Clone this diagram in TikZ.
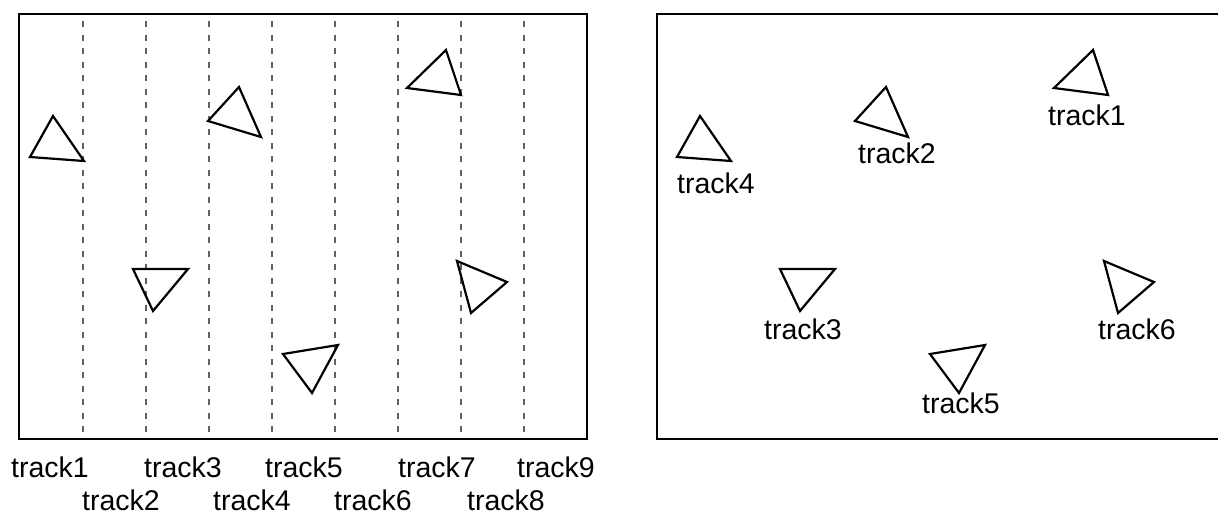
\documentclass[tikz,border=0pt]{standalone}
\usepackage{fontspec}
\setmainfont{Liberation Sans}
\begin{document}
\begin{tikzpicture}[x=1pt,y=-1pt,
  frame/.style={line width=2.8pt, line join=miter},
  guide/.style={draw=black!62, line width=1.3pt, dash pattern=on 6pt off 7.5pt},
  marker/.style={draw, line width=2.2pt, line join=miter},
  lbl/.style={font=\fontsize{28.5}{31}\selectfont, inner sep=0pt, anchor=center}]
\useasboundingbox (0,0) rectangle (1218,514);

% six track markers, drawn once per panel
\newcommand{\trackmarkers}{%
  \draw[marker] (30,157) -- (53,116) -- (84,161) -- cycle;
  \draw[marker] (208,121) -- (239,87) -- (261,137) -- cycle;
  \draw[marker] (407,88) -- (446,50) -- (461,95) -- cycle;
  \draw[marker] (133,269) -- (188,269) -- (153,311) -- cycle;
  \draw[marker] (283,354) -- (338,345) -- (312,393) -- cycle;
  \draw[marker] (457,261) -- (507,282) -- (471,313) -- cycle;
}

% left panel: lanes
\foreach \x in {83,146,209,272,335,398,461,524}
  \draw[guide] (\x,21) -- (\x,439);
\draw[frame] (19,14) rectangle (587,439);
\trackmarkers

% lane labels
\node[lbl] (l1) at (50,467) {track1};
\node[lbl] (l2) at (121,500) {track2};
\node[lbl] (l3) at (183,467) {track3};
\node[lbl] (l4) at (252,500) {track4};
\node[lbl] (l5) at (304,467) {track5};
\node[lbl] (l6) at (373,500) {track6};
\node[lbl] (l7) at (437,467) {track7};
\node[lbl] (l8) at (506,500) {track8};
\node[lbl] (l9) at (556,467) {track9};

% right panel: labelled markers
\draw[frame] (1222,14) -- (657,14) -- (657,439) -- (1222,439);
\begin{scope}[shift={(647,0)}]
  \trackmarkers
\end{scope}
\node[lbl] (r4) at (716,183) {track4};
\node[lbl] (r2) at (897,153) {track2};
\node[lbl] (r1) at (1087,115) {track1};
\node[lbl] (r3) at (803,329) {track3};
\node[lbl] (r5) at (961,403) {track5};
\node[lbl] (r6) at (1137,329) {track6};
\end{tikzpicture}
\end{document}
